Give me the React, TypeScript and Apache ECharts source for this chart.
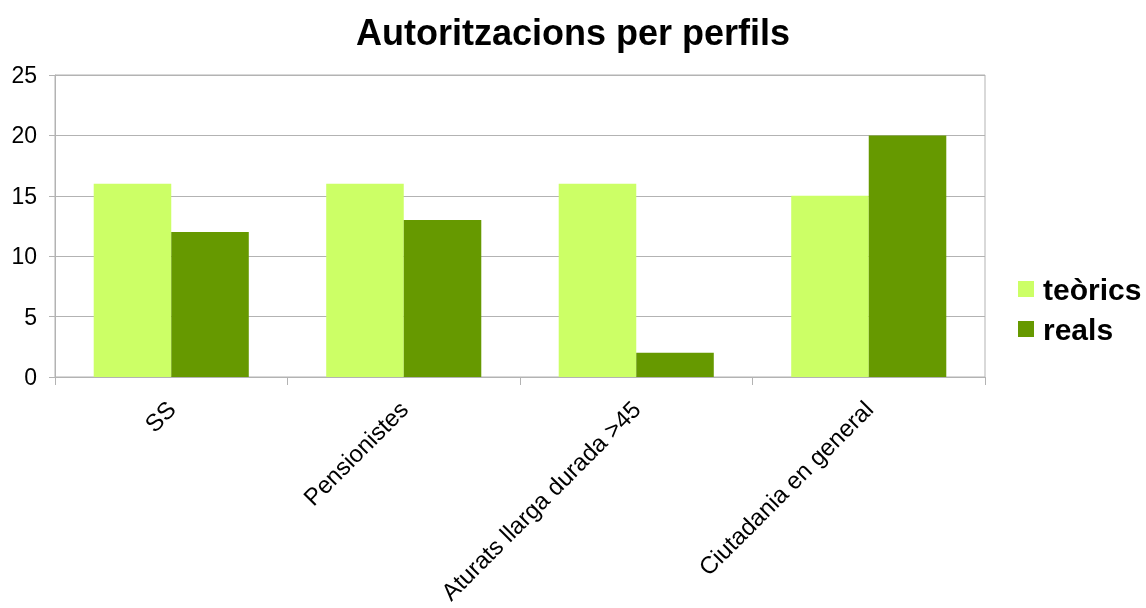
import React, { useEffect, useRef } from "react";
import * as echarts from "echarts";

const categories = ["SS", "Pensionistes", "Aturats llarga durada >45", "Ciutadania en general"];
const teorics = [16, 16, 16, 15];
const reals = [12, 13, 2, 20];
const seriesNames = ["teòrics", "reals"];

export default function App() {
  const ref = useRef<HTMLDivElement>(null);
  useEffect(() => {
    const chart = echarts.init(ref.current!, null, { renderer: "svg" });
    const font = "Liberation Sans";
    chart.setOption({
      animation: false,
      textStyle: { fontFamily: font },
      title: {
        text: "Autoritzacions per perfils",
        left: "center",
        top: 9,
        textStyle: { fontFamily: font, fontSize: 36, fontWeight: "bold", color: "#000" },
      },
      legend: {
        orient: "vertical",
        left: 1013,
        top: 269,
        itemWidth: 16,
        itemHeight: 16,
        itemGap: 10,
        icon: "rect",
        data: seriesNames,
        textStyle: { fontFamily: font, fontSize: 30, fontWeight: "bold", color: "#000", padding: [0, 0, 0, 4] },
      },
      grid: {
        left: 55,
        right: 161,
        top: 75,
        bottom: 231,
        show: true,
        borderColor: "#b3b3b3",
        borderWidth: 1,
      },
      xAxis: {
        type: "category",
        data: categories,
        axisLine: { lineStyle: { color: "#b3b3b3" } },
        axisTick: { show: true, length: 8, lineStyle: { color: "#b3b3b3" } },
        axisLabel: { rotate: 45, margin: 28, fontSize: 24, color: "#000", fontFamily: font, interval: 0 },
      },
      yAxis: {
        type: "value",
        min: 0,
        max: 25,
        interval: 5,
        axisLine: { show: true, lineStyle: { color: "#b3b3b3" } },
        axisTick: { show: true, length: 6, lineStyle: { color: "#b3b3b3" } },
        splitLine: { lineStyle: { color: "#b3b3b3" } },
        axisLabel: { fontSize: 23, color: "#000", margin: 18, fontFamily: font },
      },
      series: [
        {
          name: seriesNames[0],
          type: "bar",
          data: teorics,
          itemStyle: { color: "#ccff66" },
          barGap: "0%",
          barCategoryGap: "33.3%",
        },
        {
          name: seriesNames[1],
          type: "bar",
          data: reals,
          itemStyle: { color: "#669900" },
          barGap: "0%",
          barCategoryGap: "33.3%",
        },
      ],
    });
    return () => chart.dispose();
  }, []);
  return <div ref={ref} style={{ position: "fixed", left: 0, top: 0, width: 1146, height: 608 }} />;
}
